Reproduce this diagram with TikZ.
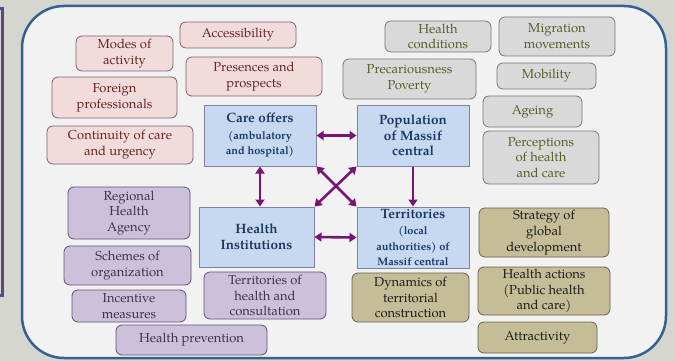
\documentclass[tikz,border=0pt]{standalone}
\usepackage{fontspec}
\setmainfont{TeX Gyre Pagella}
\usetikzlibrary{arrows.meta}
\definecolor{bgc}{RGB}{214,214,208}
\definecolor{innerc}{RGB}{242,242,242}
\definecolor{framec}{RGB}{52,96,146}
\definecolor{barc}{RGB}{92,72,124}
\definecolor{pinkfill}{RGB}{242,220,219}
\definecolor{pinkdraw}{RGB}{128,96,112}
\definecolor{pinktext}{RGB}{99,37,35}
\definecolor{greyfill}{RGB}{217,217,217}
\definecolor{greydraw}{RGB}{120,120,128}
\definecolor{greytext}{RGB}{79,98,40}
\definecolor{purpfill}{RGB}{204,193,218}
\definecolor{purpdraw}{RGB}{96,80,120}
\definecolor{purptext}{RGB}{63,49,81}
\definecolor{olivefill}{RGB}{196,189,151}
\definecolor{olivedraw}{RGB}{100,96,80}
\definecolor{olivetext}{RGB}{30,28,24}
\definecolor{bluefill}{RGB}{198,217,241}
\definecolor{bluedraw}{RGB}{130,130,160}
\definecolor{bluetext}{RGB}{31,56,100}
\definecolor{arrowc}{RGB}{120,20,120}
\newcommand{\smtxt}{\fontsize{11}{12.8}\selectfont}
\begin{document}
\begin{tikzpicture}[x=1pt,y=-1pt,
  sz/.style 2 args={minimum width=#1, minimum height=#2},
  box/.style={rounded corners=6pt, draw, line width=0.8pt, align=center, inner sep=1pt,
    font=\fontsize{13}{15.8}\selectfont},
  pinkbox/.style={box, fill=pinkfill, draw=pinkdraw, text=pinktext},
  greybox/.style={box, fill=greyfill, draw=greydraw, text=greytext},
  purpbox/.style={box, fill=purpfill, draw=purpdraw, text=purptext},
  olivebox/.style={box, fill=olivefill, draw=olivedraw, text=olivetext},
  bluebox/.style={draw=bluedraw, fill=bluefill, line width=1pt, align=center, inner sep=1pt,
    text=bluetext, font=\bfseries\fontsize{13.5}{15.5}\selectfont},
  dbl/.style={line width=2.6pt, draw=arrowc, {Triangle[length=7pt,width=9pt]}-{Triangle[length=7pt,width=9pt]}},
  sgl/.style={line width=2.6pt, draw=arrowc, -{Triangle[length=7pt,width=9pt]}}
]
\clip (0,0) rectangle (675,361);
\fill[bgc] (0,0) rectangle (675,361);
\draw[barc, line width=3pt] (-6,9) -- (2.5,9) -- (2.5,295) -- (-6,295);
\draw[framec, fill=innerc, line width=2.5pt, rounded corners=42pt] (22,6) rectangle (666,358);

% pink
\node[pinkbox, sz={97}{35}] (modes) at (124.5,53.5) {Modes of\\activity};
\node[pinkbox, sz={116}{26}] (access) at (238,35) {Accessibility};
\node[pinkbox, sz={136}{39}] (presences) at (254,76.5) {Presences and\\prospects};
\node[pinkbox, sz={125}{41}] (foreign) at (114.5,97.5) {Foreign\\professionals};
\node[pinkbox, sz={146}{38}] (continuity) at (120,145) {Continuity of care\\and urgency};
% grey
\node[greybox, sz={106}{31}] (healthcond) at (438,36.5) {Health\\conditions};
\node[greybox, sz={116}{39}] (migration) at (557,36.5) {Migration\\movements};
\node[greybox, sz={133}{40}] (precar) at (409.5,79) {Precariousness\\Poverty};
\node[greybox, sz={99}{26}] (mobility) at (546.5,76) {Mobility};
\node[greybox, sz={99}{31}] (ageing) at (532.5,111.5) {Ageing};
\node[greybox, sz={116}{53}] (percep) at (541,157.5) {Perceptions\\of health\\and care};
% purple
\node[purpbox, sz={122}{52}] (regional) at (129,213) {Regional\\Health\\Agency};
\node[purpbox, sz={127}{39}] (schemes) at (127.5,265.5) {Schemes of\\organization};
\node[purpbox, sz={114}{32}] (incentive) at (129,306) {Incentive\\measures};
\node[purpbox, sz={151}{30}] (prevention) at (191.5,340) {Health prevention};
\node[purpbox, sz={122}{47}] (terrhealth) at (265,295.5) {Territories of\\health and\\consultation};
% olive
\node[olivebox, sz={117}{49}] (dynamics) at (410.5,297.5) {Dynamics of\\territorial\\construction};
\node[olivebox, sz={130}{49}] (strategy) at (544,232.5) {Strategy of\\global\\development};
\node[olivebox, sz={132}{48}] (actions) at (544,291) {Health actions\\(Public health\\and care)};
\node[olivebox, sz={119}{31}] (attract) at (537.5,337.5) {Attractivity};
% blue
\node[bluebox, sz={112}{61}] (care) at (260,135.5) {Care offers\\[1pt]\smtxt (ambulatory\\\smtxt and hospital)};
\node[bluebox, sz={112}{61}] (population) at (413,135.5) {Population\\of Massif\\central};
\node[bluebox, sz={115}{60}] (institutions) at (256.5,237) {Health\\Institutions};
\node[bluebox, sz={112}{61}] (territories) at (413,237.5) {Territories\\[1pt]\smtxt (local\\\smtxt authorities) of\\\smtxt Massif central};

% arrows
\draw[dbl] (care.east) -- (population.west);
\draw[dbl] (care.south) -- (care.south |- institutions.north);
\draw[sgl] (population.south) -- (territories.north);
\draw[dbl] (institutions.east) -- (territories.west);
\draw[dbl] (care.south east) -- (territories.north west);
\draw[dbl] (population.south west) -- (institutions.north east);
\end{tikzpicture}
\end{document}
